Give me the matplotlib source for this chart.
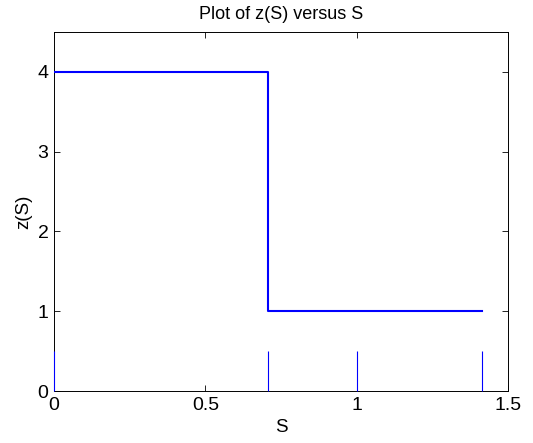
import matplotlib
matplotlib.use('Agg')
import matplotlib.pyplot as plt

# step function z(S)
s_vals = [0, 0.7071, 0.7071, 1.4142]
z_vals = [4, 4, 1, 1]

# sample marks along S
mark_s = [0, 0.7071, 1.0, 1.4142]
mark_h = [0.5, 0.5, 0.5, 0.5]

x_ticks = [0, 0.5, 1, 1.5]
x_labels = ['0', '0.5', '1', '1.5']
y_ticks = [0, 1, 2, 3, 4]

plt.rcParams['font.family'] = ['Liberation Sans', 'DejaVu Sans']

fig = plt.figure(figsize=(5.33, 4.43), dpi=100)
ax = fig.add_axes([54 / 533, 1 - 391 / 443, (508 - 54) / 533, (391 - 32) / 443])

ax.plot(s_vals, z_vals, color='#0000ff', linewidth=1.5, zorder=3)
ax.vlines(mark_s, 0, mark_h, color='#0000ff', linewidth=0.8, zorder=4, clip_on=False)

ax.set_xlim(0, 1.5)
ax.set_ylim(0, 4.5)
ax.set_xticks(x_ticks)
ax.set_xticklabels(x_labels)
ax.set_yticks(y_ticks)
ax.tick_params(direction='in', top=True, right=True, labelsize=14, length=4, width=0.6, pad=4)
for sp in ax.spines.values():
    sp.set_linewidth(0.7)

ax.set_title('Plot of z(S) versus S', fontsize=13, pad=9)
ax.set_xlabel('S', fontsize=13.5, labelpad=4)
ax.set_ylabel('z(S)', fontsize=13.5, labelpad=4)

fig.savefig('out.png', dpi=100)
